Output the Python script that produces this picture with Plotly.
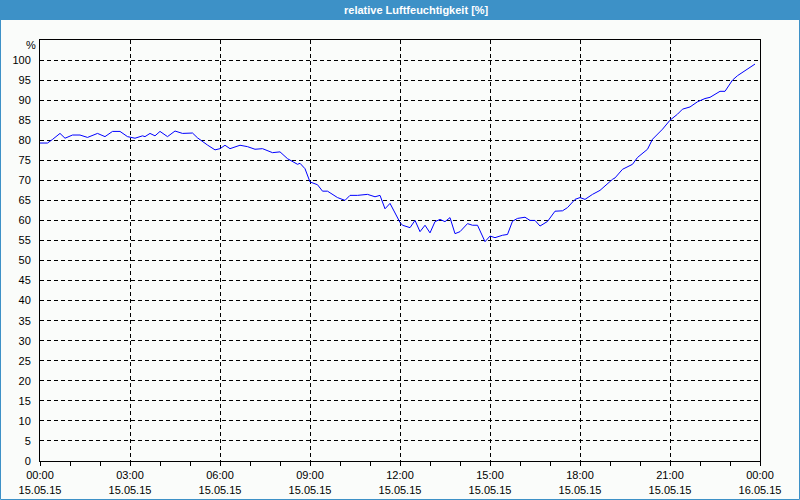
import plotly.graph_objects as go

title_text = "relative Luftfeuchtigkeit [%]"
y_unit = "%"
day = "2015-05-15"

times = [
    "00:00", "00:15", "00:25", "00:40", "00:50", "01:05", "01:20", "01:35", "01:55", "02:10",
    "02:25", "02:40", "02:55", "03:10", "03:25", "03:30", "03:40", "03:50", "04:00", "04:15",
    "04:30", "04:45", "05:05", "05:15", "05:35", "05:50", "06:00", "06:10", "06:20", "06:40",
    "06:55", "07:10", "07:25", "07:45", "08:00", "08:15", "08:35", "08:40", "08:50", "09:00",
    "09:15", "09:25", "09:35", "09:55", "10:10", "10:20", "10:35", "10:55", "11:10", "11:20",
    "11:30", "11:40", "12:00", "12:05", "12:20", "12:30", "12:40", "12:50", "13:00", "13:10",
    "13:20", "13:30", "13:40", "13:50", "14:00", "14:15", "14:25", "14:35", "14:50", "15:00",
    "15:10", "15:25", "15:35", "15:45", "15:55", "16:10", "16:20", "16:30", "16:40", "16:55",
    "17:10", "17:25", "17:35", "17:50", "18:00", "18:10", "18:25", "18:40", "19:05", "19:10",
    "19:25", "19:45", "19:55", "20:15", "20:25", "20:35", "20:45", "21:00", "21:15", "21:25",
    "21:40", "21:55", "22:10", "22:20", "22:40", "22:50", "23:05", "23:15", "23:30", "23:50",
]
humidity = [
    79.3, 79.3, 80.2, 81.7, 80.5, 81.3, 81.3, 80.7, 81.7, 80.9,
    82.2, 82.2, 80.9, 80.5, 81.1, 80.9, 81.7, 81.1, 82.2, 80.9,
    82.3, 81.7, 81.8, 80.6, 78.8, 77.6, 77.9, 78.75, 77.9, 78.75,
    78.4, 77.75, 77.9, 76.9, 77.1, 75.4, 74.0, 74.25, 72.9, 69.6,
    68.9, 67.3, 67.3, 65.7, 65.0, 66.25, 66.25, 66.5, 65.9, 66.25,
    62.9, 64.25, 59.5, 58.8, 58.2, 60.0, 57.2, 58.8, 56.9, 59.7,
    60.25, 59.7, 60.7, 56.7, 57.2, 59.2, 58.8, 58.8, 54.7, 56.1,
    55.7, 56.3, 56.5, 59.8, 60.5, 60.8, 60.0, 60.0, 58.6, 59.75,
    62.3, 62.4, 63.2, 65.25, 65.7, 65.25, 66.5, 67.5, 70.25, 70.6,
    72.75, 74.0, 75.7, 77.75, 80.25, 81.5, 82.75, 85.0, 86.5, 87.75,
    88.3, 89.6, 90.4, 90.7, 92.2, 92.2, 95.0, 96.1, 97.3, 99.0,
]
y_ticks = [0, 5, 10, 15, 20, 25, 30, 35, 40, 45, 50, 55, 60, 65, 70, 75, 80, 85, 90, 95, 100]

x_start = "2015-05-15 00:00"
x_end = "2015-05-16 00:00"
y_max = 105

W, H = 800, 500
L, R, T, B = 40, 40, 40, 39
pw, ph = W - L - R, H - T - B

def px_x(p):
    return (p - L) / pw

def px_y(p):
    return (H - B - p) / ph

bg = "#fafcfa"
bar = "#3d91c7"
font = "Liberation Sans"
grid_dash = "4px,3px"

fig = go.Figure()
fig.add_trace(go.Scatter(
    x=[f"{day} {t}" for t in times], y=humidity, mode="lines",
    line=dict(color="#0000ff", width=1), hoverinfo="skip",
))

fig.update_layout(
    width=W, height=H,
    margin=dict(l=L, r=R, t=T, b=B, autoexpand=False),
    paper_bgcolor=bg, plot_bgcolor=bg,
    showlegend=False,
    font=dict(family=font, size=11, color="#000000"),
    xaxis=dict(
        type="date", range=[x_start, x_end], automargin=False,
        tick0=x_start, dtick=3 * 3600000,
        tickformat="%H:%M<br>%d.%m.%y",
        showgrid=True, gridcolor="#000000", gridwidth=1, griddash=grid_dash,
        showline=True, linecolor="#000000", linewidth=1, mirror=True,
        ticks="outside", ticklen=4, tickcolor="#000000", tickwidth=1,
        minor=dict(dtick=3600000, ticks="outside", ticklen=4, tickcolor="#000000", showgrid=False),
        zeroline=False, fixedrange=True,
    ),
    yaxis=dict(
        range=[0, y_max], automargin=False,
        tickmode="array", tickvals=y_ticks,
        showgrid=True, gridcolor="#000000", gridwidth=1, griddash=grid_dash,
        showline=True, linecolor="#000000", linewidth=1, mirror=True,
        ticks="", ticklabelstandoff=6,
        zeroline=False, fixedrange=True,
    ),
    shapes=[
        dict(type="rect", xref="paper", yref="paper",
             x0=px_x(0), x1=px_x(W), y0=px_y(0), y1=px_y(20),
             fillcolor=bar, line=dict(width=0), layer="above"),
        dict(type="rect", xref="paper", yref="paper",
             x0=px_x(0.5), x1=px_x(W - 0.5), y0=px_y(0.5), y1=px_y(H - 0.5),
             fillcolor="rgba(0,0,0,0)", line=dict(color=bar, width=1), layer="above"),
    ],
    annotations=[
        dict(text=f"<b>{title_text}</b>", xref="paper", yref="paper",
             x=px_x(416), y=px_y(10), xanchor="center", yanchor="middle",
             showarrow=False, font=dict(family=font, size=11, color="#ffffff")),
        dict(text=y_unit, xref="paper", yref="paper",
             x=px_x(31), y=px_y(45), xanchor="center", yanchor="middle",
             showarrow=False, font=dict(family=font, size=11, color="#000000")),
    ],
)

fig.write_html("out.html", config=dict(displayModeBar=False))
